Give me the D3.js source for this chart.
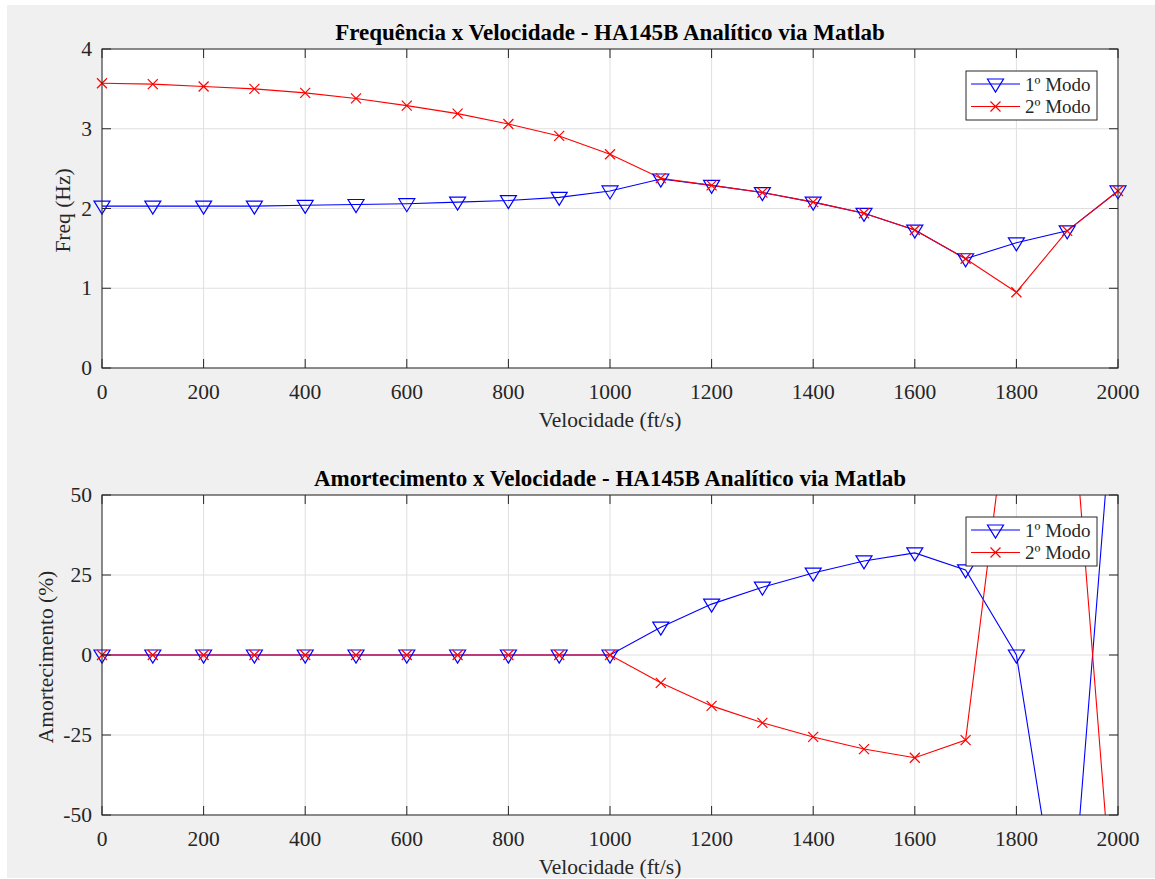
<!DOCTYPE html>
<html>
<head>
<meta charset="utf-8">
<script src="https://cdn.jsdelivr.net/npm/d3@7"></script>
<style>
  html, body { margin: 0; padding: 0; background: #fff; }
  svg { display: block; }
  text { font-family: "Liberation Serif", "Times New Roman", serif; fill: #262626; }
</style>
</head>
<body>
<div id="chart"></div>
<script>
// Data
const velocidade = [0, 100, 200, 300, 400, 500, 600, 700, 800, 900, 1000,
                    1100, 1200, 1300, 1400, 1500, 1600, 1700, 1800, 1900, 2000];

const freqModo1 = [2.03, 2.03, 2.03, 2.03, 2.04, 2.05, 2.06, 2.08, 2.10, 2.14, 2.22,
                   2.37, 2.29, 2.20, 2.08, 1.94, 1.73, 1.37, 1.57, 1.72, 2.22];
const freqModo2 = [3.57, 3.56, 3.53, 3.50, 3.45, 3.38, 3.29, 3.19, 3.06, 2.91, 2.68,
                   2.38, 2.29, 2.20, 2.08, 1.94, 1.73, 1.37, 0.95, 1.72, 2.22];

const amortModo1 = [0, 0, 0, 0, 0, 0, 0, 0, 0, 0, 0,
                    8.7, 15.9, 21.2, 25.6, 29.4, 31.9, 26.6, 0, -100, 100];
const amortModo2 = [0, 0, 0, 0, 0, 0, 0, 0, 0, 0, 0,
                    -8.7, -15.9, -21.2, -25.6, -29.4, -32.1, -26.6, 100, 100, -100];

const xTicks = [0, 200, 400, 600, 800, 1000, 1200, 1400, 1600, 1800, 2000];
const freqTicks = [0, 1, 2, 3, 4];
const amortTicks = [-50, -25, 0, 25, 50];
const legendNames = ["1º Modo", "2º Modo"];

const W = 1155, H = 879;
const svg = d3.select("#chart").append("svg")
    .attr("width", W)
    .attr("height", H);

// figure background (light grey, small white margin left/top)
svg.append("rect")
    .attr("x", 7).attr("y", 5)
    .attr("width", W - 7).attr("height", H - 6)
    .attr("fill", "#f0f0f0");

const blue = "#0000ff", red = "#ff0000";

function drawPanel(cfg) {
    const { top, bottom, left, right, yDomain, yTicks, title, ylabel, yLabelX, series, legendBox, clipId } = cfg;

    const x = d3.scaleLinear().domain([0, 2000]).range([left, right]);
    const y = d3.scaleLinear().domain(yDomain).range([bottom, top]);

    const g = svg.append("g");

    g.append("rect")
        .attr("x", left).attr("y", top)
        .attr("width", right - left).attr("height", bottom - top)
        .attr("fill", "#fff");

    // grid
    g.selectAll("line.vgrid")
        .data(xTicks)
        .enter().append("line")
        .attr("x1", d => x(d)).attr("x2", d => x(d))
        .attr("y1", top).attr("y2", bottom)
        .attr("stroke", "#dfdfdf").attr("stroke-width", 1);
    g.selectAll("line.hgrid")
        .data(yTicks)
        .enter().append("line")
        .attr("x1", left).attr("x2", right)
        .attr("y1", d => y(d)).attr("y2", d => y(d))
        .attr("stroke", "#dfdfdf").attr("stroke-width", 1);

    // clip for lines
    svg.append("clipPath").attr("id", clipId)
        .append("rect")
        .attr("x", left).attr("y", top)
        .attr("width", right - left).attr("height", bottom - top);

    const line = d3.line()
        .x((d, i) => x(velocidade[i]))
        .y(d => y(d));

    series.forEach(s => {
        g.append("path")
            .datum(s.values)
            .attr("clip-path", `url(#${clipId})`)
            .attr("fill", "none")
            .attr("stroke", s.color)
            .attr("stroke-width", 1.1)
            .attr("d", line);
    });

    // markers (hidden when outside the limits)
    series.forEach(s => {
        const pts = s.values.map((v, i) => [velocidade[i], v])
            .filter(p => p[1] >= yDomain[0] && p[1] <= yDomain[1]);
        drawMarkers(g, pts.map(p => [x(p[0]), y(p[1])]), s.marker, s.color);
    });

    // box
    g.append("rect")
        .attr("x", left).attr("y", top)
        .attr("width", right - left).attr("height", bottom - top)
        .attr("fill", "none").attr("stroke", "#262626").attr("stroke-width", 1);

    // ticks (inward, all sides)
    const tl = 9;
    xTicks.forEach(t => {
        g.append("line").attr("x1", x(t)).attr("x2", x(t)).attr("y1", bottom).attr("y2", bottom - tl)
            .attr("stroke", "#262626");
        g.append("line").attr("x1", x(t)).attr("x2", x(t)).attr("y1", top).attr("y2", top + tl)
            .attr("stroke", "#262626");
    });
    yTicks.forEach(t => {
        g.append("line").attr("x1", left).attr("x2", left + tl).attr("y1", y(t)).attr("y2", y(t))
            .attr("stroke", "#262626");
        g.append("line").attr("x1", right).attr("x2", right - tl).attr("y1", y(t)).attr("y2", y(t))
            .attr("stroke", "#262626");
    });

    // tick labels
    g.selectAll("text.xt")
        .data(xTicks)
        .enter().append("text")
        .attr("x", d => x(d))
        .attr("y", bottom + 31)
        .attr("text-anchor", "middle")
        .style("font-size", "21.5px")
        .text(d => d);
    g.selectAll("text.yt")
        .data(yTicks)
        .enter().append("text")
        .attr("x", left - 10)
        .attr("y", d => y(d) + 7)
        .attr("text-anchor", "end")
        .style("font-size", "21.5px")
        .text(d => d);

    // axis labels
    g.append("text")
        .attr("x", (left + right) / 2)
        .attr("y", bottom + 59)
        .attr("text-anchor", "middle")
        .style("font-size", "21.5px")
        .text("Velocidade (ft/s)");
    g.append("text")
        .attr("transform", `translate(${yLabelX},${(top + bottom) / 2 + 2}) rotate(-90)`)
        .attr("text-anchor", "middle")
        .style("font-size", "21.5px")
        .text(ylabel);

    // title
    g.append("text")
        .attr("x", (left + right) / 2)
        .attr("y", top - 9)
        .attr("text-anchor", "middle")
        .style("font-size", "23px")
        .style("font-weight", "bold")
        .style("fill", "#000")
        .text(title);

    // legend
    const lg = g.append("g");
    lg.append("rect")
        .attr("x", legendBox.x).attr("y", legendBox.y)
        .attr("width", legendBox.w).attr("height", legendBox.h)
        .attr("fill", "#fff").attr("stroke", "#262626").attr("stroke-width", 1);
    series.forEach((s, i) => {
        const cy = legendBox.y + 13 + i * 22.5;
        lg.append("line")
            .attr("x1", legendBox.x + 5).attr("x2", legendBox.x + 54)
            .attr("y1", cy).attr("y2", cy)
            .attr("stroke", s.color).attr("stroke-width", 1.1);
        drawMarkers(lg, [[legendBox.x + 29.5, cy]], s.marker, s.color);
        lg.append("text")
            .attr("x", legendBox.x + 59)
            .attr("y", cy + 6.5)
            .style("font-size", "19px")
            .text(legendNames[i]);
    });
}

function drawMarkers(g, pts, type, color) {
    if (type === "tri") {
        const r = 8;
        g.selectAll(null)
            .data(pts)
            .enter().append("path")
            .attr("d", d => `M${d[0] - r},${d[1] - 5} L${d[0] + r},${d[1] - 5} L${d[0]},${d[1] + 8} Z`)
            .attr("fill", "none")
            .attr("stroke", color)
            .attr("stroke-width", 1.2);
    } else {
        const r = 5;
        g.selectAll(null)
            .data(pts)
            .enter().append("path")
            .attr("d", d => `M${d[0] - r},${d[1] - r} L${d[0] + r},${d[1] + r} M${d[0] - r},${d[1] + r} L${d[0] + r},${d[1] - r}`)
            .attr("fill", "none")
            .attr("stroke", color)
            .attr("stroke-width", 1.2);
    }
}

drawPanel({
    top: 49, bottom: 368, left: 102, right: 1118,
    yDomain: [0, 4], yTicks: freqTicks,
    title: "Frequência x Velocidade - HA145B Analítico via Matlab",
    ylabel: "Freq (Hz)", yLabelX: 70,
    clipId: "clipTop",
    legendBox: { x: 966, y: 71, w: 131, h: 49 },
    series: [
        { values: freqModo1, color: blue, marker: "tri" },
        { values: freqModo2, color: red, marker: "x" }
    ]
});

drawPanel({
    top: 495, bottom: 815, left: 102, right: 1118,
    yDomain: [-50, 50], yTicks: amortTicks,
    title: "Amortecimento x Velocidade - HA145B Analítico via Matlab",
    ylabel: "Amortecimento (%)", yLabelX: 53,
    clipId: "clipBottom",
    legendBox: { x: 966, y: 517, w: 131, h: 49 },
    series: [
        { values: amortModo1, color: blue, marker: "tri" },
        { values: amortModo2, color: red, marker: "x" }
    ]
});
</script>
</body>
</html>
